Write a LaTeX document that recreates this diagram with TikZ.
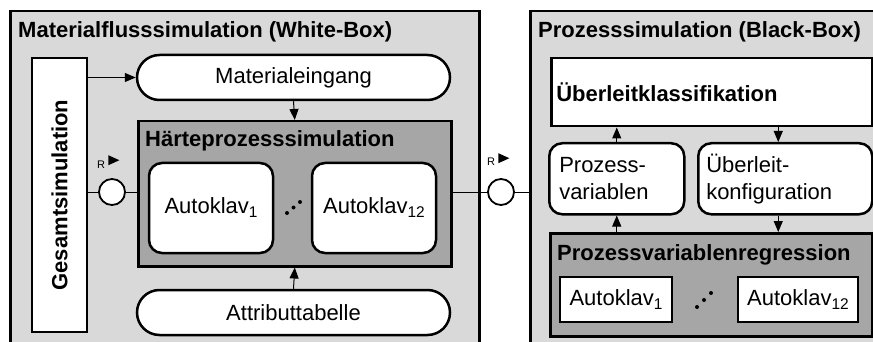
\documentclass[tikz,border=0pt]{standalone}
\usepackage{fontspec}
\setmainfont{Liberation Sans}
\usetikzlibrary{arrows.meta,shapes.misc}
\definecolor{panelgray}{RGB}{217,217,217}
\definecolor{groupgray}{RGB}{166,166,166}
\newcommand\boxfont{\fontsize{22}{27}\selectfont}
\newcommand\tagfont{\fontsize{11}{13}\selectfont}
% lowered index digits after a box label
\newcommand\idx[1]{\raisebox{-4pt}{\fontsize{15.5}{16}\selectfont #1}}
\begin{document}
\begin{tikzpicture}[x=1pt,y=-1pt,
  panel/.style={draw, line width=2.5pt, fill=panelgray, inner sep=0pt},
  groupbox/.style={draw, line width=2.5pt, fill=groupgray, inner sep=0pt},
  whitebox/.style={draw, line width=2.5pt, fill=white, inner sep=0pt, font=\boxfont},
  roundbox/.style={whitebox, rounded corners=13pt},
  stadium/.style={whitebox, rounded rectangle},
  heading/.style={inner sep=0pt, anchor=base west, font=\boxfont\bfseries},
  port/.style={circle, draw, line width=1.8pt, fill=white, minimum size=26pt, inner sep=0pt},
  tag/.style={inner sep=0pt, anchor=base west, font=\tagfont},
  link/.style={line width=1pt},
  flow/.style={line width=1pt, -{Triangle[length=11pt,width=9pt]}},
  dotmark/.style={circle, fill, minimum size=4pt, inner sep=0pt}
]
\useasboundingbox (0,0) rectangle (873,342);
\clip (0,0) rectangle (873,342);

% ---- Materialflusssimulation ----
\node[panel, anchor=north west, minimum width=469pt, minimum height=360pt] (wb) at (9,10) {};
\node[heading] (wbtitle) at (18,38) {Materialflusssimulation (White-Box)};

\node[whitebox, rotate=90, minimum width=274pt, minimum height=55pt, font=\boxfont\bfseries]
  (ges) at (59.5,195) {Gesamtsimulation};

\node[stadium, minimum width=313pt, minimum height=45pt] (mat) at (293.5,77.5) {Materialeingang};

\node[groupbox, anchor=north west, minimum width=313pt, minimum height=145pt] (hps) at (137,120) {};
\node[heading] (hpstitle) at (145,147) {Härteprozesssimulation};
\node[roundbox, minimum width=124pt, minimum height=90pt] (ak1) at (211,208) {Autoklav\idx{1}};
\node[roundbox, minimum width=124pt, minimum height=90pt] (ak12) at (374,208) {Autoklav\idx{12}};
\node[dotmark] (d1) at (287,213) {};
\node[dotmark] (d2) at (293.5,207.5) {};
\node[dotmark] (d3) at (300,202) {};

\node[stadium, minimum width=313pt, minimum height=45pt] (att) at (293.5,312.5) {Attributtabelle};

\node[port] (pl) at (112,192) {};
\node[tag] (rl) at (97,168) {R};
\fill ([xshift=3pt,yshift=-1pt]rl.east) -- ++(11,-5) -- ++(-11,-5) -- cycle;

\draw[flow] (ges.south |- mat.west) -- (mat.west);
\draw[flow] (mat.south) -- (hps.north);
\draw[flow] (att.north) -- (hps.south);
\draw[link] (ges.south |- pl) -- (pl.west);
\draw[link] (pl.east) -- (pl -| hps.west);

% ---- Prozesssimulation ----
\node[panel, anchor=north west, minimum width=370pt, minimum height=360pt] (bb) at (529,10) {};
\node[heading] (bbtitle) at (538,38) {Prozesssimulation (Black-Box)};

\node[whitebox, anchor=north west, minimum width=321pt, minimum height=68pt,
  inner xsep=5pt, text width=311pt, align=left, font=\boxfont\bfseries] (ukl) at (550,57) {Überleitklassifikation};

\node[roundbox, anchor=north west, minimum width=135pt, minimum height=71pt,
  inner xsep=10pt, text width=115pt, align=left] (pv) at (548,142) {Prozess-\\variablen};
\node[roundbox, anchor=north west, minimum width=174pt, minimum height=71pt,
  inner xsep=8pt, text width=158pt, align=left] (uk) at (697,142) {Überleit-\\konfiguration};

\node[groupbox, anchor=north west, minimum width=322pt, minimum height=103pt] (pvr) at (549,232) {};
\node[heading] (pvrtitle) at (557,260) {Prozessvariablenregression};
\node[whitebox, minimum width=112pt, minimum height=45pt] (rk1) at (616,299.5) {Autoklav\idx{1}};
\node[whitebox, minimum width=120pt, minimum height=45pt] (rk12) at (798,299.5) {Autoklav\idx{12}};
\node[dotmark] (e1) at (697,307) {};
\node[dotmark] (e2) at (704,300) {};
\node[dotmark] (e3) at (711,293) {};

\coordinate (ukx) at ([xshift=-7pt]uk.north);
\coordinate (ukxs) at ([xshift=-7pt]uk.south);
\draw[flow] (pv.north) -- (pv.north |- ukl.south);
\draw[flow] (ukx |- ukl.south) -- (ukx);
\draw[flow] (pv.south |- pvr.north) -- (pv.south);
\draw[flow] (ukxs) -- (ukxs |- pvr.north);

% ---- coupling between both simulations ----
\node[port] (pr) at (501,192) {};
\node[tag] (rr) at (487,166) {R};
\fill ([xshift=3pt,yshift=-1pt]rr.east) -- ++(11,-5) -- ++(-11,-5) -- cycle;
\draw[link] (hps.east |- pr) -- (pr.west);
\draw[link] (pr.east) -- (pr -| bb.west);
\end{tikzpicture}
\end{document}
